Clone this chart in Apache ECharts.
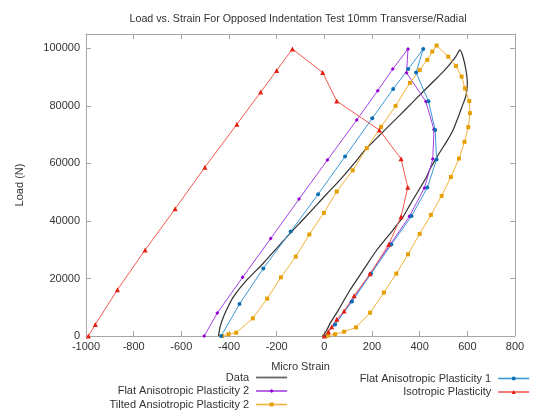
<!DOCTYPE html>
<html>
<head>
<meta charset="utf-8">
<script src="https://cdn.jsdelivr.net/npm/echarts@6/dist/echarts.min.js"></script>
<style>
  html, body { margin: 0; padding: 0; background: #fff; }
  #chart { width: 535px; height: 416px; }
</style>
</head>
<body>
<div id="chart"></div>
<script>
// Axis ticks
const xTicks = [-1000, -800, -600, -400, -200, 0, 200, 400, 600, 800];
const yTicks = [0, 20000, 40000, 60000, 80000, 100000];

// Measured loop: [micro strain, load (N)]
const dataCurve = [
  [-444, 0], [-438, 3000], [-423, 6700], [-405, 10000], [-381, 13700], [-325, 19500],
  [-256, 25300], [-200, 30500], [-144, 35700], [-88, 40600], [-32, 45600], [17, 50000],
  [66, 54300], [120, 59500], [171, 64700], [220, 68800], [268, 72800], [317, 76800],
  [366, 80900], [415, 85000], [464, 89000], [500, 92000], [527, 94500], [552, 97200],
  [569, 99500],
  [582, 97000], [594, 92500], [600, 87900], [594, 83500], [578, 79800], [558, 75300],
  [538, 71200], [513, 67600], [490, 64600], [468, 61600], [445, 58300], [429, 55400],
  [404, 51800], [380, 48500], [355, 45000], [331, 41500], [307, 38900], [283, 36300],
  [250, 33000], [220, 29900], [192, 26500], [164, 23000], [136, 19500], [108, 16000],
  [83, 12500], [59, 9000], [40, 6500], [24, 4400], [10, 2000], [-5, 0]
];

// Flat Anisotropic Plasticity 1
const flat1 = [
  [-433, 0], [-356, 11100], [-256, 23500], [-141, 36300], [-26, 49300], [87, 62400],
  [201, 75700], [289, 85900], [352, 92800], [415, 99800],
  [385, 91600], [437, 81600], [465, 71600], [471, 61400], [432, 51600], [366, 41700],
  [281, 31800], [196, 21600], [116, 12000], [45, 4000], [0, 0]
];

// Flat Anisotropic Plasticity 2
const flat2 = [
  [-504, 0], [-449, 8000], [-343, 20400], [-225, 33900], [-106, 47600], [13, 61200],
  [136, 75100], [224, 85300], [287, 92800], [351, 99800],
  [345, 91500], [426, 81500], [460, 71800], [455, 61500], [420, 51500], [357, 41600],
  [278, 32000], [192, 21600], [113, 12000], [44, 4000], [0, 0]
];

// Tilted Ansiotropic Plasticity 2
const tilted2 = [
  [-430, 0], [-402, 600], [-370, 1150], [-300, 6150], [-240, 13000], [-182, 20400],
  [-120, 27600], [-63, 35300], [-2, 42800], [52, 50200], [119, 57600], [178, 65300],
  [238, 72700], [299, 80000], [359, 88000], [400, 92500], [432, 96000], [453, 98900],
  [471, 101000],
  [520, 97100], [552, 93900], [576, 90200], [590, 86100], [608, 81700], [611, 77500],
  [604, 72600], [588, 67500], [565, 61700], [531, 55300], [492, 48700], [447, 42100],
  [400, 35500], [351, 28400], [302, 21700], [250, 15100], [192, 8100], [133, 3000],
  [83, 1500], [45, 600], [15, 150], [0, 0]
];

// Isotropic Plasticity
const isotropic = [
  [-990, 0], [-961, 4000], [-868, 16100], [-752, 29900], [-626, 44200], [-501, 58700],
  [-367, 73600], [-267, 84800], [-200, 92300], [-134, 99800],
  [-7, 91600], [52, 81700], [231, 71600], [322, 61600], [350, 51700], [322, 41500],
  [270, 31800], [192, 21600], [125, 14000], [83, 8700], [52, 5800], [31, 3200],
  [17, 1500], [0, 0]
];

const FONT = '"Liberation Sans", Arial, sans-serif';
const AXIS_COLOR = '#a6a6a6';

const chart = echarts.init(document.getElementById('chart'), null, { renderer: 'canvas' });

function lineSeries(name, data, lineColor, dotColor, symbol, size) {
  return {
    name: name,
    type: 'line',
    xAxisIndex: 0,
    yAxisIndex: 0,
    data: data,
    symbol: symbol,
    symbolSize: size,
    showSymbol: true,
    lineStyle: { color: lineColor, width: 1 },
    itemStyle: { color: dotColor },
    emphasis: { disabled: true },
    animation: false
  };
}

const baseX = {
  type: 'value',
  min: xTicks[0],
  max: xTicks[xTicks.length - 1],
  interval: 200,
  axisLine: { show: true, onZero: false, lineStyle: { color: AXIS_COLOR, width: 1 } },
  axisTick: { show: true, inside: true, length: 5, lineStyle: { color: AXIS_COLOR } },
  splitLine: { show: false }
};
const baseY = {
  type: 'value',
  min: 0,
  max: 105000,
  interval: 20000,
  axisLine: { show: true, onZero: false, lineStyle: { color: AXIS_COLOR, width: 1 } },
  axisTick: { show: true, inside: true, length: 5, lineStyle: { color: AXIS_COLOR } },
  splitLine: { show: false }
};

const legendBase = {
  orient: 'vertical',
  align: 'right',
  itemWidth: 31,
  itemHeight: 5,
  itemGap: 2.5,
  padding: 0,
  selectedMode: false,
  lineStyle: { width: 1.6 },
  textStyle: { fontFamily: FONT, fontSize: 11, color: '#333', padding: [0, 2, 0, 0] }
};

const option = {
  backgroundColor: '#ffffff',
  animation: false,
  title: {
    text: 'Load vs. Strain For Opposed Indentation Test 10mm Transverse/Radial',
    left: 293,
    textAlign: 'center',
    top: 9,
    textStyle: { fontFamily: FONT, fontSize: 10.7, fontWeight: 'normal', color: '#333' }
  },
  grid: { left: 86, right: 20, top: 34, bottom: 80, containLabel: false },
  xAxis: [
    Object.assign({}, baseX, {
      position: 'bottom',
      name: 'Micro Strain',
      nameLocation: 'middle',
      nameGap: 25,
      nameTextStyle: { fontFamily: FONT, fontSize: 11, color: '#333' },
      axisLabel: {
        show: true, margin: 5, fontFamily: FONT, fontSize: 11, color: '#333',
        formatter: v => (xTicks.indexOf(v) >= 0 ? String(v) : '')
      }
    }),
    Object.assign({}, baseX, { position: 'top', axisLabel: { show: false } })
  ],
  yAxis: [
    Object.assign({}, baseY, {
      position: 'left',
      name: 'Load (N)',
      nameLocation: 'middle',
      nameGap: 61,
      nameTextStyle: { fontFamily: FONT, fontSize: 11, color: '#333' },
      axisLabel: {
        show: true, margin: 6, fontFamily: FONT, fontSize: 11, color: '#333',
        formatter: v => (yTicks.indexOf(v) >= 0 ? String(v) : '')
      }
    }),
    Object.assign({}, baseY, { position: 'right', axisLabel: { show: false } })
  ],
  legend: [
    Object.assign({}, legendBase, {
      data: [
        { name: 'Data', itemStyle: { opacity: 0 }, lineStyle: { color: '#666', width: 1.8 } },
        'Flat Anisotropic Plasticity 2',
        'Tilted Ansiotropic Plasticity 2'
      ],
      right: 247,
      top: 372
    }),
    Object.assign({}, legendBase, {
      data: ['Flat Anisotropic Plasticity 1', 'Isotropic Plasticity'],
      right: 5,
      top: 373
    })
  ],
  series: [
    {
      name: 'Data',
      type: 'line',
      data: dataCurve,
      smooth: 0.2,
      symbol: 'none',
      showSymbol: false,
      lineStyle: { color: '#303030', width: 1.2 },
      itemStyle: { color: '#303030' },
      emphasis: { disabled: true },
      animation: false
    },
    lineSeries('Flat Anisotropic Plasticity 2', flat2, '#a440e4', '#9400d3', 'diamond', 4),
    lineSeries('Tilted Ansiotropic Plasticity 2', tilted2, '#f0b23a', '#e69f00', 'rect', 4),
    lineSeries('Flat Anisotropic Plasticity 1', flat1, '#3a98d6', '#0a6fb2', 'circle', 4),
    lineSeries('Isotropic Plasticity', isotropic, '#ef5a50', '#e51e10', 'triangle', 5)
  ]
};

chart.setOption(option);
</script>
</body>
</html>
